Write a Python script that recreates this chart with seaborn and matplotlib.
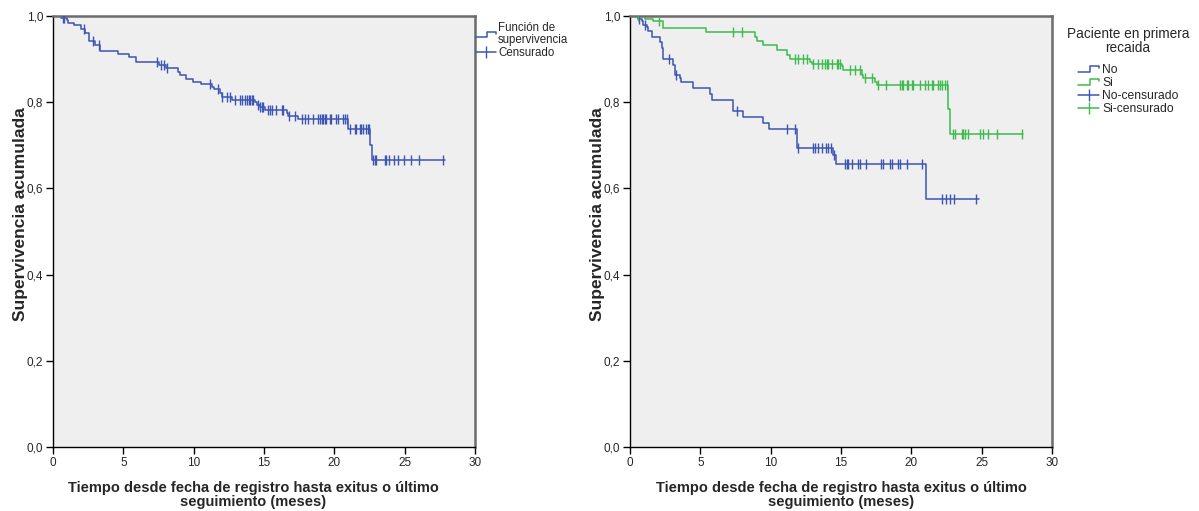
import numpy as np
import pandas as pd
import matplotlib
matplotlib.use("Agg")
import matplotlib.pyplot as plt
import seaborn as sns
from matplotlib.lines import Line2D
from matplotlib.legend_handler import HandlerBase
from matplotlib.ticker import FuncFormatter

# --- left panel: global survival (step times and survival after each step)
all_t = [0, 0.6, 1.0, 1.1, 1.5, 2.0, 2.3, 2.55, 3.0, 3.35, 4.6, 5.4, 5.9, 7.5, 8.0,
         8.9, 9.05, 9.45, 9.95, 10.5, 11.3, 11.42, 11.89, 12.0, 12.7, 14.37, 14.49,
         14.72, 15.07, 16.6, 16.72, 17.4, 20.97, 22.55, 22.7]
all_s = [1.0, 0.995, 0.99, 0.984, 0.979, 0.970, 0.961, 0.942, 0.933, 0.919, 0.912,
         0.905, 0.894, 0.887, 0.879, 0.871, 0.862, 0.854, 0.847, 0.842, 0.836, 0.830,
         0.822, 0.813, 0.806, 0.800, 0.794, 0.789, 0.782, 0.775, 0.769, 0.760, 0.738,
         0.700, 0.667]
all_end = 27.9
all_cens = [0.69, 0.8, 2.17, 2.81, 3.26, 7.41, 7.69, 7.88, 8.07, 11.18, 11.75, 12.01,
            12.36, 12.55, 12.95, 13.3, 13.43, 13.66, 13.78, 13.9, 14.01, 14.13, 14.25,
            14.6, 14.75, 14.84, 14.95, 15.3, 15.43, 15.55, 15.85, 16.26, 16.37, 16.75,
            17.2, 17.67, 17.9, 18.14, 18.49, 18.85, 18.97, 19.09, 19.2, 19.32, 19.44,
            19.67, 19.79, 20.15, 20.26, 20.62, 20.74, 20.9, 21.09, 21.44, 21.56, 21.8,
            21.92, 22.03, 22.27, 22.39, 22.5, 22.74, 22.86, 22.98, 23.57, 23.69, 23.92,
            24.27, 24.51, 24.98, 25.46, 26.04, 27.69]

# --- right panel: by relapse group
no_t = [0, 0.59, 0.83, 0.95, 1.19, 1.3, 1.54, 2.13, 2.25, 2.37, 3.08, 3.2, 3.55, 3.6,
        4.5, 5.69, 5.8, 7.34, 8.05, 9.43, 9.9, 11.87, 14.45, 14.64, 21.04]
no_s = [1.0, 0.993, 0.988, 0.979, 0.974, 0.965, 0.951, 0.94, 0.925, 0.90, 0.887, 0.863,
        0.857, 0.847, 0.833, 0.819, 0.806, 0.78, 0.766, 0.752, 0.738, 0.694, 0.678,
        0.657, 0.576]
no_end = 24.83
no_cens = [0.66, 1.07, 2.8, 3.3, 7.63, 11.14, 11.73, 11.96, 13.0, 13.15, 13.4, 13.62,
           13.9, 14.1, 14.3, 14.5, 15.28, 15.4, 15.47, 15.8, 16.23, 16.35, 16.75, 17.84,
           17.96, 18.48, 18.6, 19.07, 19.19, 19.71, 20.73, 22.15, 22.46, 22.74, 23.05,
           24.59]

si_t = [0, 1.07, 1.66, 2.37, 5.4, 8.88, 9.0, 9.48, 10.43, 11.14, 11.37, 12.8, 12.91,
        15.1, 15.16, 16.47, 16.58, 17.41, 17.53, 22.62, 22.74]
si_s = [1.0, 0.993, 0.989, 0.973, 0.962, 0.951, 0.942, 0.933, 0.921, 0.91, 0.90, 0.894,
        0.888, 0.883, 0.875, 0.863, 0.856, 0.848, 0.839, 0.785, 0.727]
si_end = 27.95
si_cens = [0.59, 2.08, 7.34, 7.94, 11.73, 11.96, 12.32, 12.56, 13.0, 13.38, 13.62,
           13.86, 13.98, 14.1, 14.33, 14.69, 14.8, 14.92, 15.64, 16.0, 16.35, 16.7,
           17.18, 17.65, 18.2, 19.19, 19.31, 19.43, 19.66, 19.78, 20.02, 20.14, 20.61,
           20.97, 21.21, 21.44, 21.56, 21.92, 22.03, 22.15, 22.39, 22.5, 22.98, 23.1,
           23.58, 23.69, 23.81, 24.05, 24.88, 25.11, 25.47, 26.06, 27.84]

x_ticks = [0, 5, 10, 15, 20, 25, 30]
y_ticks = [0.0, 0.2, 0.4, 0.6, 0.8, 1.0]
x_label = "Tiempo desde fecha de registro hasta exitus o último\nseguimiento (meses)"
y_label = "Supervivencia acumulada"

BLUE = "#3d55b3"
GREEN = "#3dbb4c"


def curve_df(times, surv, end):
    return pd.DataFrame({"tiempo": list(times) + [end],
                         "superv": list(surv) + [surv[-1]]})


def cens_df(times, surv, cens):
    idx = np.searchsorted(np.array(times), np.array(cens), side="right") - 1
    return pd.DataFrame({"tiempo": cens, "superv": np.array(surv)[idx]})


def draw_km(ax, times, surv, end, cens, color):
    sns.lineplot(data=curve_df(times, surv, end), x="tiempo", y="superv", ax=ax,
                 drawstyle="steps-post", estimator=None, sort=False, color=color, lw=1.1)
    sns.scatterplot(data=cens_df(times, surv, cens), x="tiempo", y="superv", ax=ax,
                    marker="|", s=50, linewidth=1.0, color=color, zorder=3)


class StepHandler(HandlerBase):
    def create_artists(self, legend, orig_handle, xd, yd, w, h, fontsize, trans):
        x0, y0 = -xd, -yd
        xs = [x0, x0 + 0.55 * w, x0 + 0.55 * w, x0 + w, x0 + w]
        ys = [y0 + 0.2 * h, y0 + 0.2 * h, y0 + 0.85 * h, y0 + 0.85 * h, y0 + 0.6 * h]
        ln = Line2D(xs, ys, color=orig_handle.get_color(), lw=1.1, transform=trans)
        return [ln]


def style_axes(ax, xlab_x):
    ax.set_facecolor("#efefef")
    ax.set_xlim(0, 30)
    ax.set_ylim(0, 1.0)
    ax.set_xticks(x_ticks)
    ax.set_yticks(y_ticks)
    ax.yaxis.set_major_formatter(FuncFormatter(lambda v, p: f"{v:.1f}".replace(".", ",")))
    ax.tick_params(axis="both", direction="out", length=5, width=1, labelsize=8.5,
                   color="black", pad=2, bottom=True, left=True)
    for side in ["left", "bottom"]:
        ax.spines[side].set_color("black")
        ax.spines[side].set_linewidth(1.0)
    for side in ["top", "right"]:
        ax.spines[side].set_color("#6c6c6c")
        ax.spines[side].set_linewidth(1.8)
    ax.set_xlabel(x_label, fontsize=10.5, fontweight="bold", linespacing=1.0)
    ax.set_ylabel(y_label, fontsize=12.5, fontweight="bold")
    ax.xaxis.set_label_coords(xlab_x, -0.08)
    ax.yaxis.set_label_coords(-0.06, 0.54)


sns.set_theme(style="white")
plt.rcParams["font.family"] = ["Liberation Sans", "DejaVu Sans"]

fig = plt.figure(figsize=(11.99, 5.11), dpi=100)
ax1 = fig.add_axes([53 / 1199, 64 / 511, 422 / 1199, 431 / 511])
ax2 = fig.add_axes([630 / 1199, 64 / 511, 422 / 1199, 431 / 511])

draw_km(ax1, all_t, all_s, all_end, all_cens, BLUE)
style_axes(ax1, 0.474)

draw_km(ax2, no_t, no_s, no_end, no_cens, BLUE)
draw_km(ax2, si_t, si_s, si_end, si_cens, GREEN)
style_axes(ax2, 0.5)

# left legend
h_fun = Line2D([], [], color=BLUE)
h_cen = Line2D([], [], color=BLUE, marker="|", markersize=8, lw=1.1)
leg1 = ax1.legend([h_fun, h_cen], ["Función de\nsupervivencia", "Censurado"],
                  handler_map={h_fun: StepHandler()}, loc="upper left",
                  bbox_to_anchor=(1.003, 0.985), frameon=False, fontsize=8.3,
                  handlelength=1.7, handletextpad=0.2, borderaxespad=0, borderpad=0,
                  labelspacing=0.05)
for t in leg1.get_texts():
    t.set_linespacing(0.95)

# right legend
h_no = Line2D([], [], color=BLUE)
h_si = Line2D([], [], color=GREEN)
h_noc = Line2D([], [], color=BLUE, marker="|", markersize=8, lw=1.1)
h_sic = Line2D([], [], color=GREEN, marker="|", markersize=8, lw=1.1)
leg = ax2.legend([h_no, h_si, h_noc, h_sic], ["No", "Si", "No-censurado", "Si-censurado"],
                 handler_map={h_no: StepHandler(), h_si: StepHandler()},
                 title="Paciente en primera\nrecaida", loc="upper left",
                 bbox_to_anchor=(1.035, 0.975), frameon=False, fontsize=8.7,
                 title_fontsize=9.8, handlelength=1.8, handletextpad=0.2,
                 borderaxespad=0, borderpad=0, labelspacing=0.08)
leg.get_title().set_multialignment("center")
leg.get_title().set_linespacing(1.0)
leg._legend_box.align = "center"
leg._legend_box.sep = 7

fig.savefig("out.png", dpi=100)
